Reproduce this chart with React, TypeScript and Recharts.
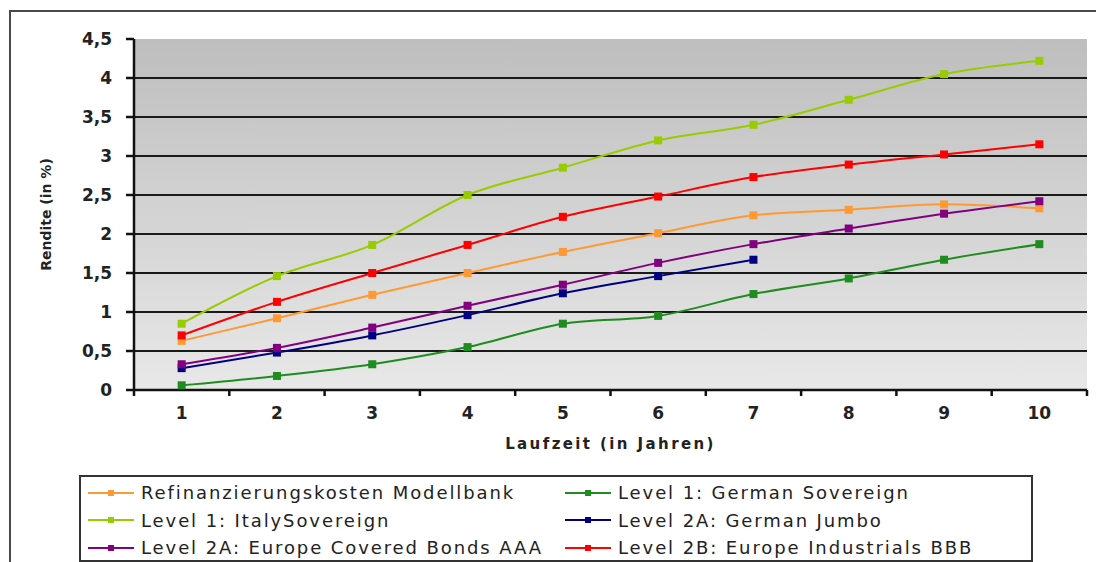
import { LineChart, Line, XAxis, YAxis, CartesianGrid } from "recharts";

const years = [1, 2, 3, 4, 5, 6, 7, 8, 9, 10];

const refinanzierung = [0.63, 0.92, 1.22, 1.5, 1.77, 2.01, 2.24, 2.31, 2.38, 2.33];
const germanSovereign = [0.06, 0.18, 0.33, 0.55, 0.85, 0.95, 1.23, 1.43, 1.67, 1.87];
const italySovereign = [0.85, 1.46, 1.86, 2.5, 2.85, 3.2, 3.4, 3.72, 4.05, 4.22];
const germanJumbo = [0.28, 0.48, 0.7, 0.96, 1.24, 1.46, 1.67, null, null, null];
const coveredBonds = [0.33, 0.54, 0.8, 1.08, 1.35, 1.63, 1.87, 2.07, 2.26, 2.42];
const industrialsBBB = [0.7, 1.13, 1.5, 1.86, 2.22, 2.48, 2.73, 2.89, 3.02, 3.15];

const yTicks = [0, 0.5, 1, 1.5, 2, 2.5, 3, 3.5, 4, 4.5];
const gridValues = [0.5, 1, 1.5, 2, 2.5, 3, 3.5, 4];
const xTicks = [0.5, 1, 1.5, 2, 2.5, 3, 3.5, 4, 4.5, 5, 5.5, 6, 6.5, 7, 7.5, 8, 8.5, 9, 9.5, 10, 10.5];

// legend order (row by row, two columns)
const series = [
  { key: "refi", name: "Refinanzierungskosten Modellbank", color: "#FF9933", values: refinanzierung },
  { key: "gerSov", name: "Level 1: German Sovereign", color: "#1E8C1E", values: germanSovereign },
  { key: "italy", name: "Level 1: ItalySovereign", color: "#99CC00", values: italySovereign },
  { key: "jumbo", name: "Level 2A: German Jumbo", color: "#000080", values: germanJumbo },
  { key: "covered", name: "Level 2A: Europe Covered Bonds AAA", color: "#800080", values: coveredBonds },
  { key: "bbb", name: "Level 2B: Europe Industrials BBB", color: "#FF0000", values: industrialsBBB },
];

const data = years.map((year, i) => {
  const row: Record<string, number | null> = { year };
  series.forEach((s) => {
    row[s.key] = s.values[i];
  });
  return row;
});

const FONT = "'DejaVu Sans', 'Liberation Sans', Arial, sans-serif";

const squareDot = (color: string) => (props: any) => {
  const { cx, cy, index } = props;
  if (cx == null || cy == null) return <g key={index} />;
  return <rect key={index} x={cx - 4} y={cy - 4} width={8} height={8} fill={color} />;
};

const XTick = (props: any) => {
  const { x, y, payload } = props;
  const v = payload.value;
  if (!Number.isInteger(v)) {
    return <line x1={x} x2={x} y1={y - 6} y2={y} stroke="#111" strokeWidth={2.5} />;
  }
  return (
    <text x={x} y={y + 23} textAnchor="middle" fontFamily={FONT} fontSize={17} fontWeight="bold" fill="#222">
      {v}
    </text>
  );
};

const App = () => {
  return (
    <div style={{ position: "relative", width: 1096, height: 562, overflow: "hidden", background: "#fff" }}>
      <style>{`body{margin:0;overflow:hidden}`}</style>
      <div
        style={{
          position: "absolute",
          left: 9,
          top: 10,
          width: 1200,
          height: 700,
          border: "2px solid #4a4a4a",
        }}
      />
      <div style={{ position: "absolute", left: 0, top: 0 }}>
        <LineChart width={1096} height={562} data={data} margin={{ top: 39, right: 9, left: 0, bottom: 112 }}>
          <defs>
            <linearGradient id="plotBg" x1="0" y1="0" x2="0" y2="1">
              <stop offset="0%" stopColor="#BEBEBE" />
              <stop offset="100%" stopColor="#E8E8E8" />
            </linearGradient>
          </defs>
          <CartesianGrid
            vertical={false}
            horizontalValues={gridValues}
            stroke="#1a1a1a"
            strokeWidth={2}
            fill="url(#plotBg)"
            fillOpacity={1}
          />
          <XAxis
            xAxisId="top"
            orientation="top"
            type="number"
            dataKey="year"
            domain={[0.5, 10.5]}
            height={0}
            tick={false}
            tickLine={false}
            axisLine={{ stroke: "#9a9a9a", strokeWidth: 2 }}
          />
          <YAxis
            yAxisId="right"
            orientation="right"
            type="number"
            domain={[0, 4.5]}
            width={0}
            tick={false}
            tickLine={false}
            axisLine={{ stroke: "#9a9a9a", strokeWidth: 2 }}
          />
          <XAxis
            type="number"
            dataKey="year"
            domain={[0.5, 10.5]}
            ticks={xTicks}
            interval={0}
            height={60}
            tickSize={6}
            tickMargin={0}
            tickLine={false}
            tick={<XTick />}
            axisLine={{ stroke: "#111", strokeWidth: 2.5 }}
            label={{
              content: (p: any) => {
                const vb = p.viewBox;
                return (
                  <text
                    x={vb.x + vb.width / 2}
                    y={vb.y + 59}
                    textAnchor="middle"
                    fontFamily={FONT}
                    fontSize={15}
                    fontWeight="bold"
                    letterSpacing={2.4}
                    fill="#222"
                  >
                    Laufzeit (in Jahren)
                  </text>
                );
              },
            }}
          />
          <YAxis
            type="number"
            domain={[0, 4.5]}
            ticks={yTicks}
            width={134}
            tickSize={8}
            tickMargin={14}
            tickFormatter={(v: number) => String(v).replace(".", ",")}
            tick={{ fontFamily: FONT, fontSize: 17, fontWeight: "bold", fill: "#222" }}
            tickLine={{ stroke: "#111", strokeWidth: 2.5 }}
            axisLine={{ stroke: "#111", strokeWidth: 2.5 }}
            label={{
              content: (p: any) => {
                const vb = p.viewBox;
                const cx = 46;
                const cy = vb.y + vb.height / 2;
                return (
                  <text
                    x={cx}
                    y={cy}
                    transform={`rotate(-90 ${cx} ${cy})`}
                    textAnchor="middle"
                    dominantBaseline="central"
                    fontFamily={FONT}
                    fontSize={14}
                    fontWeight="bold"
                    fill="#222"
                  >
                    Rendite (in %)
                  </text>
                );
              },
            }}
          />
          {series.map((s) => (
            <Line
              key={s.key}
              type="monotone"
              dataKey={s.key}
              name={s.name}
              stroke={s.color}
              strokeWidth={2}
              dot={squareDot(s.color)}
              activeDot={false}
              connectNulls={false}
              isAnimationActive={false}
            />
          ))}
        </LineChart>
      </div>
      <div
        style={{
          position: "absolute",
          left: 79,
          top: 475,
          width: 950,
          height: 81,
          border: "2px solid #333",
          display: "grid",
          gridTemplateColumns: "477px 1fr",
          gridAutoRows: "27.5px",
          paddingTop: 2,
          boxSizing: "content-box",
        }}
      >
        {series.map((s) => (
          <div
            key={s.key}
            style={{
              display: "flex",
              alignItems: "center",
              paddingLeft: 7,
              fontFamily: FONT,
              fontSize: 18,
              letterSpacing: 1.9,
              color: "#222",
              whiteSpace: "nowrap",
            }}
          >
            <svg width={46} height={10} style={{ marginRight: 7, flexShrink: 0 }}>
              <line x1={0} x2={46} y1={5} y2={5} stroke={s.color} strokeWidth={2} />
              <rect x={20} y={2} width={6} height={6} fill={s.color} />
            </svg>
            {s.name}
          </div>
        ))}
      </div>
    </div>
  );
};

export default App;
